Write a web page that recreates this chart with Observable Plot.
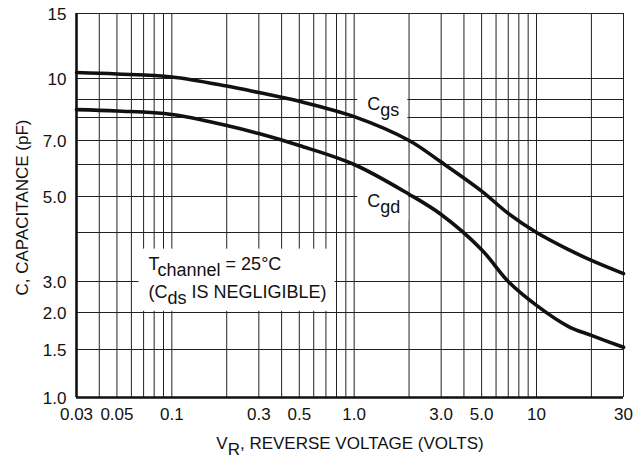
<!DOCTYPE html>
<html><head><meta charset="utf-8">
<script src="https://cdn.jsdelivr.net/npm/d3@7"></script>
<script src="https://cdn.jsdelivr.net/npm/@observablehq/plot@0.6"></script>
<style>
html,body{margin:0;padding:0;background:#fff;}
#chart svg{display:block;}
</style></head><body><div id="chart"></div>
<script>
// ---- data ----
const voltage = [0.03, 0.05, 0.1, 0.2, 0.3, 0.5, 1, 2, 3, 5, 7, 10, 15, 20, 30];
const cgs = [10.46, 10.35, 10.12, 9.64, 9.33, 8.9, 8.05, 7.0, 6.1, 5.17, 4.53, 4.0, 3.65, 3.43, 3.16];
const cgd = [8.44, 8.36, 8.17, 7.65, 7.3, 6.79, 6.0, 5.07, 4.5, 3.65, 3.0, 2.23, 1.81, 1.69, 1.53];
const seriesNames = ["Cgs", "Cgd"];

const xGrid = [0.03, 0.04, 0.05, 0.06, 0.07, 0.08, 0.09, 0.1, 0.2, 0.3, 0.4, 0.5, 0.6, 0.7, 0.8, 0.9,
               1, 2, 3, 4, 5, 6, 7, 8, 9, 10, 20, 30];
const yGrid = [1, 1.5, 2, 3, 4, 5, 6, 7, 8, 9, 10, 15];
const xTicks = [0.03, 0.05, 0.1, 0.3, 0.5, 1, 3, 5, 10, 30];
const xTickLabels = ["0.03", "0.05", "0.1", "0.3", "0.5", "1.0", "3.0", "5.0", "10", "30"];
const yTicks = [1, 1.5, 2, 3, 5, 7, 10, 15];
const yTickLabels = ["1.0", "1.5", "2.0", "3.0", "5.0", "7.0", "10", "15"];

const xTitle = "V_{R}, REVERSE VOLTAGE (VOLTS)";
const yTitle = "C, CAPACITANCE (pF)";
const annoLabels = ["C_{gs}", "C_{gd}", "T_{channel} = 25°C", "(C_{ds} IS NEGLIGIBLE)"];
const annoX = [1.18, 1.18, 0.0745, 0.0745];
const annoY = [8.71, 4.86, 3.36, 2.66];
const annoBox = [0, 1, 2, 2];

// ---- build table ----
const rows = [];
voltage.forEach((v, i) => {
  rows.push({series: seriesNames[0], v, c: cgs[i]});
  rows.push({series: seriesNames[1], v, c: cgd[i]});
});
const annos = annoLabels.map((label, i) => ({label, x: annoX[i], y: annoY[i], box: annoBox[i]}));

const font = "'Liberation Sans', Arial, sans-serif";
const ink = "#111";

const plot = Plot.plot({
  width: 644, height: 459,
  marginTop: 13, marginBottom: 62, marginLeft: 76, marginRight: 21,
  style: {background: "white", fontFamily: font, overflow: "visible"},
  x: {type: "log", domain: [0.03, 30], axis: null},
  // the printed chart's vertical scale is non-uniform: piecewise mapping of its grid
  y: {type: "linear", domain: yGrid, range: [397, 349, 312, 281, 232, 196, 164, 140, 117, 99, 78, 13], axis: null},
  marks: [
    Plot.ruleX(xGrid, {x: d => d, stroke: "#222", strokeWidth: 1}),
    Plot.ruleY(yGrid, {y: d => d, stroke: "#222", strokeWidth: 1}),
    Plot.text(annos, {x: "x", y: "y", text: "label", textAnchor: "start", lineAnchor: "middle", fontSize: 18, fill: ink}),
    Plot.line(rows, {x: "v", y: "c", z: "series", curve: "catmull-rom", stroke: ink, strokeWidth: 3.6}),
    Plot.ruleX([0.03], {x: d => d, stroke: ink, strokeWidth: 2.6}),
    Plot.ruleY([1], {y: d => d, stroke: ink, strokeWidth: 2.6}),
    Plot.text(xTicks, {x: d => d, text: (d, i) => xTickLabels[i], frameAnchor: "bottom", textAnchor: "middle", lineAnchor: "middle", dy: 17, fontSize: 17, fill: ink}),
    Plot.text(yTicks, {y: d => d, text: (d, i) => yTickLabels[i], frameAnchor: "left", textAnchor: "end", lineAnchor: "middle", dx: -10, dy: 1, fontSize: 17, fill: ink}),
    Plot.text([xTitle], {frameAnchor: "bottom", textAnchor: "middle", lineAnchor: "middle", dy: 46, fontSize: 17, fill: ink}),
    Plot.text([yTitle], {frameAnchor: "left", textAnchor: "middle", lineAnchor: "middle", rotate: -90, dx: -54, dy: 2, fontSize: 17, fill: ink})
  ]
});
document.getElementById("chart").append(plot);

// ---- subscripts and cleared label boxes ----
const NS = "http://www.w3.org/2000/svg";
const texts = [...plot.querySelectorAll("text")];
const orig = new Map();
texts.forEach(t => {
  const s = t.textContent;
  orig.set(t, s);
  if (!s.includes("_{")) return;
  t.textContent = "";
  let low = false;
  s.split(/(_\{[^}]*\})/).filter(p => p).forEach(p => {
    const sub = p.startsWith("_{");
    const ts = document.createElementNS(NS, "tspan");
    ts.textContent = sub ? p.slice(2, -1) : p;
    if (sub !== low) { ts.setAttribute("dy", sub ? 6 : -6); low = sub; }
    t.append(ts);
  });
});
const svgRect = plot.getBoundingClientRect();
const boxes = d3.group(annos, d => d.box);
for (const [, members] of boxes) {
  const els = texts.filter(t => members.some(m => m.label === orig.get(t)));
  if (!els.length) continue;
  let x0 = Infinity, y0 = Infinity, x1 = -Infinity, y1 = -Infinity;
  els.forEach(e => {
    const r = e.getBoundingClientRect();
    x0 = Math.min(x0, r.left); y0 = Math.min(y0, r.top);
    x1 = Math.max(x1, r.right); y1 = Math.max(y1, r.bottom);
  });
  const rect = document.createElementNS(NS, "rect");
  rect.setAttribute("x", x0 - svgRect.left - 10);
  rect.setAttribute("y", y0 - svgRect.top - 5);
  rect.setAttribute("width", x1 - x0 + 18);
  rect.setAttribute("height", y1 - y0 + 8);
  rect.setAttribute("fill", "white");
  const g = els[0].parentNode;
  g.parentNode.insertBefore(rect, g);
}
</script>
</body></html>
